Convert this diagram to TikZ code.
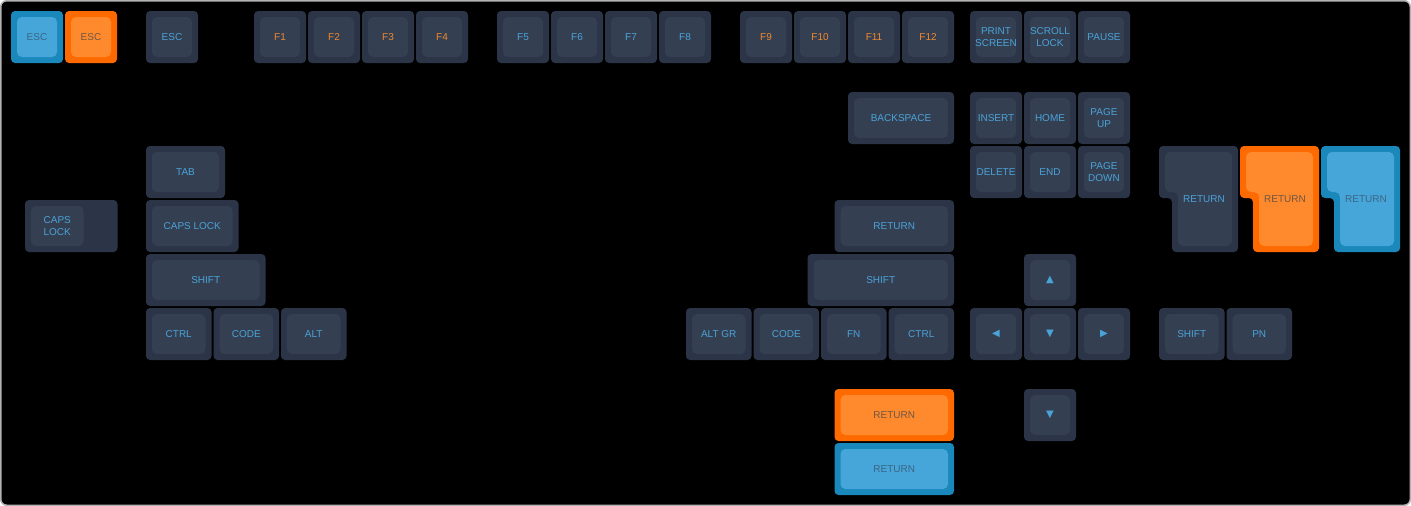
\documentclass[tikz,border=0pt]{standalone}
\usepackage{fontspec}
\setmainfont{Liberation Sans}
\newfontfamily\symfont{DejaVu Sans}
\usepackage{tikz}
\usetikzlibrary{positioning, calc}
\usepackage{xcolor}

\definecolor{keyedge}{HTML}{2C3547}
\definecolor{keyface}{HTML}{353F52}
\definecolor{keylabel}{HTML}{4AA3D8}
\definecolor{fnlabel}{HTML}{F0892E}
\definecolor{orangeedge}{HTML}{FF6A00}
\definecolor{orangeface}{HTML}{FF8A2D}
\definecolor{orangelabel}{HTML}{6E5644}
\definecolor{blueedge}{HTML}{1B88BB}
\definecolor{blueface}{HTML}{47A6D9}
\definecolor{bluelabel}{HTML}{3A6585}
\newcommand{\keyfont}{\fontsize{10}{11.5}\selectfont}

\begin{document}
\begin{tikzpicture}[
    x=1pt, y=-1pt,
    keybase/.style={rectangle, rounded corners=4pt, inner sep=0pt, outer sep=0pt, minimum width=52pt, minimum height=52pt, anchor=north west, align=center, font=\keyfont},
    keycap/.style 2 args={keybase, fill=#1, path picture={\fill[#2, rounded corners=5pt] ([shift={(6pt,6pt)}]path picture bounding box.south west) rectangle ([shift={(-6pt,-6pt)}]path picture bounding box.north east);}},
    darkkey/.style={keycap={keyedge}{keyface}, text=keylabel},
    fnkey/.style={darkkey, text=fnlabel},
    orangekey/.style={keycap={orangeedge}{orangeface}, text=orangelabel},
    bluekey/.style={keycap={blueedge}{blueface}, text=bluelabel},
    wide/.style={minimum width={54pt*#1-2pt}},
    arrowlbl/.style={font=\symfont\fontsize{10}{10}\selectfont}]
\useasboundingbox (0,0) rectangle (1411,506);
\draw[fill=black, draw=gray!60, line width=1.5pt, rounded corners=6pt] (0.75,0.75) rectangle (1410.25,505.25);
% function row
\node (escblue) [bluekey] at (11,11) {ESC};
\node (escorange) [orangekey, right=2pt of escblue] {ESC};
\node (esc) [darkkey] at (146,11) {ESC};
\node (f1) [fnkey] at (254,11) {F1};
\node (f2) [fnkey, right=2pt of f1] {F2};
\node (f3) [fnkey, right=2pt of f2] {F3};
\node (f4) [fnkey, right=2pt of f3] {F4};
\node (f5) [darkkey] at (497,11) {F5};
\node (f6) [darkkey, right=2pt of f5] {F6};
\node (f7) [darkkey, right=2pt of f6] {F7};
\node (f8) [darkkey, right=2pt of f7] {F8};
\node (f9) [fnkey] at (740,11) {F9};
\node (f10) [fnkey, right=2pt of f9] {F10};
\node (f11) [fnkey, right=2pt of f10] {F11};
\node (f12) [fnkey, right=2pt of f11] {F12};
\node (prtsc) [darkkey] at (970,11) {PRINT\\SCREEN};
\node (scrlk) [darkkey, right=2pt of prtsc] {SCROLL\\LOCK};
\node (pause) [darkkey, right=2pt of scrlk] {PAUSE};
% navigation block
\node (backspace) [darkkey, wide=2] at (848,92) {BACKSPACE};
\node (insert) [darkkey] at (970,92) {INSERT};
\node (home) [darkkey, right=2pt of insert] {HOME};
\node (pgup) [darkkey, right=2pt of home] {PAGE\\UP};
\node (delete) [darkkey, below=2pt of insert] {DELETE};
\node (end) [darkkey, below=2pt of home] {END};
\node (pgdn) [darkkey, below=2pt of pgup] {PAGE\\DOWN};
% left modifiers
\node (tab) [darkkey, wide=1.5] at (146,146) {TAB};
\node (capsstep) [keybase, wide=1.75, fill=keyedge] at (25,200) {};
\node (capsstepface) [keybase, fill=keyface, rounded corners=5pt, minimum width=52.5pt, minimum height=40pt, text=keylabel] at (31,206) {CAPS\\LOCK};
\node (caps) [darkkey, wide=1.75] at (146,200) {CAPS LOCK};
\node (lshift) [darkkey, wide=2.25] at (146,254) {SHIFT};
\node (lctrl) [darkkey, wide=1.25] at (146,308) {CTRL};
\node (lcode) [darkkey, wide=1.25, right=2pt of lctrl] {CODE};
\node (lalt) [darkkey, wide=1.25, right=2pt of lcode] {ALT};
% right modifiers
\node (ret) [darkkey, wide=2.25] at (834.5,200) {RETURN};
\node (rshift) [darkkey, wide=2.75] at (807.5,254) {SHIFT};
\node (altgr) [darkkey, wide=1.25] at (686,308) {ALT GR};
\node (rcode) [darkkey, wide=1.25, right=2pt of altgr] {CODE};
\node (fn) [darkkey, wide=1.25, right=2pt of rcode] {FN};
\node (rctrl) [darkkey, wide=1.25, right=2pt of fn] {CTRL};
\node (retorange) [orangekey, wide=2.25] at (834.5,389) {RETURN};
\node (retblue) [bluekey, wide=2.25, below=2pt of retorange] {RETURN};
% arrows
\node (arrup) [darkkey, arrowlbl] at (1024,254) {▲};
\node (arrleft) [darkkey, arrowlbl] at (970,308) {◀};
\node (arrdown) [darkkey, arrowlbl, right=2pt of arrleft] {▼};
\node (arrright) [darkkey, arrowlbl, right=2pt of arrdown] {▶};
\node (arrdown2) [darkkey, arrowlbl] at (1024,389) {▼};
\node (shift2) [darkkey, wide=1.25] at (1159,308) {SHIFT};
\node (pn) [darkkey, wide=1.25, right=2pt of shift2] {PN};
% iso return keys
\foreach \dx/\edge/\face/\lab/\nm in {0/keyedge/keyface/keylabel/isodark, 81/orangeedge/orangeface/orangelabel/isoorange, 162/blueedge/blueface/bluelabel/isoblue} {
  \begin{scope}[xshift=\dx pt]
    \fill[\edge, rounded corners=4pt] (1159,146) -- (1238,146) -- (1238,252) -- (1172,252) -- (1172,198) -- (1159,198) -- cycle;
    \fill[\face, rounded corners=5pt] (1165,152) -- (1232,152) -- (1232,246) -- (1178,246) -- (1178,192) -- (1165,192) -- cycle;
    \node (\nm) [text=\lab, font=\keyfont] at (1204,199) {RETURN};
  \end{scope}
}
\end{tikzpicture}
\end{document}
